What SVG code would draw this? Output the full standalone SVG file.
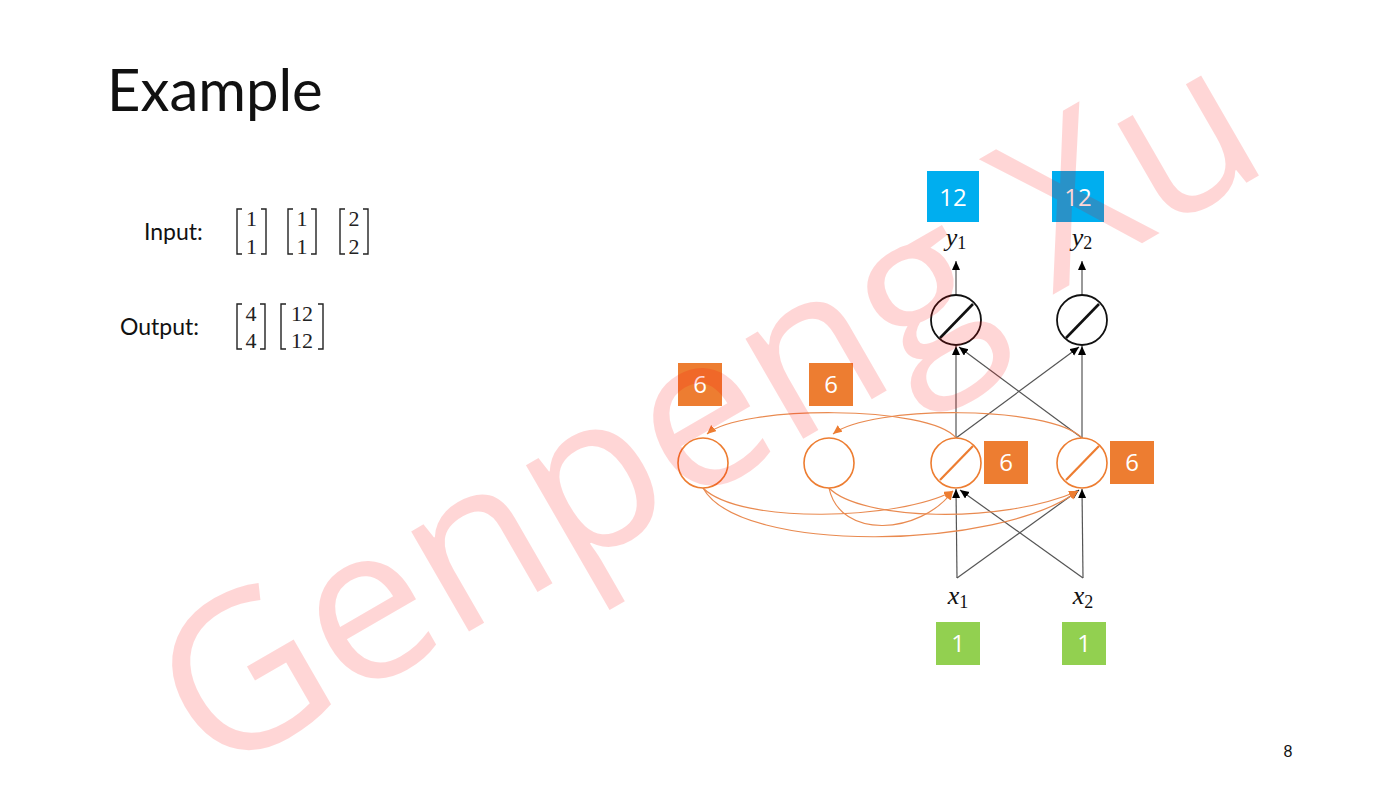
<svg xmlns="http://www.w3.org/2000/svg" width="1400" height="787" viewBox="0 0 1400 787">
<style>
.sans{font-family:Lato,"Open Sans","Liberation Sans",sans-serif;fill:#111}
.num{font-family:"Liberation Serif","DejaVu Serif",serif;font-size:22px;fill:#222;text-anchor:middle}
.brk{fill:none;stroke:#222;stroke-width:1.4}
.box{font-family:"Open Sans","Noto Sans",sans-serif;fill:#fff;text-anchor:middle;font-size:24px}
.orange{fill:#ED7D31}
.blue{fill:#00AEEF}
.green{fill:#92D050}
.ocirc{fill:#fff;stroke:#ED7D31;stroke-width:1.6}
.kcirc{fill:#fff;stroke:#111;stroke-width:1.8}
.link{fill:none;stroke:#555;stroke-width:1.2;marker-end:url(#ak)}
.rec{fill:none;stroke:#E98A50;stroke-width:1.2;marker-end:url(#ao)}
.math{font-family:"Liberation Serif","DejaVu Serif",serif;fill:#111;text-anchor:middle}
</style>
<defs>
<marker id="ak" markerUnits="userSpaceOnUse" markerWidth="10" markerHeight="9" refX="9" refY="4" orient="auto"><path d="M0,0 L9,4 L0,8 z" fill="#000"/></marker>
<marker id="ao" markerUnits="userSpaceOnUse" markerWidth="10" markerHeight="9" refX="9" refY="4" orient="auto"><path d="M0,0 L9,4 L0,8 z" fill="#ED7D31"/></marker>
</defs>
<rect width="1400" height="787" fill="#fff"/>

<text class="sans" x="107" y="111" font-size="58">Example</text>

<g id="input">
<text class="sans" x="144" y="240" font-size="23">Input:</text>
<path class="brk" d="M242,209 H237 V254 H242 M261,209 H266 V254 H261"/>
<text class="num" x="251.5" y="226">1</text><text class="num" x="251.5" y="254">1</text>
<path class="brk" d="M293,209 H288 V254 H293 M311,209 H316 V254 H311"/>
<text class="num" x="302" y="226">1</text><text class="num" x="302" y="254">1</text>
<path class="brk" d="M345,209 H340 V254 H345 M363,209 H368 V254 H363"/>
<text class="num" x="354" y="226">2</text><text class="num" x="354" y="254">2</text>
</g>
<g id="output">
<text class="sans" x="120" y="335" font-size="23">Output:</text>
<path class="brk" d="M242,304 H237 V349 H242 M260,304 H265 V349 H260"/>
<text class="num" x="251" y="321">4</text><text class="num" x="251" y="348">4</text>
<path class="brk" d="M286,304 H281 V349 H286 M318,304 H323 V349 H318"/>
<text class="num" x="302" y="321">12</text><text class="num" x="302" y="348">12</text>
</g>

<g id="connectors">
<path class="link" d="M957,578 L956,489"/>
<path class="link" d="M957,578 L1079,490"/>
<path class="link" d="M1083,578 L960,490"/>
<path class="link" d="M1083,578 L1082,489"/>
<path class="link" d="M956,438 L956,346"/>
<path class="link" d="M956,438 L1079,347"/>
<path class="link" d="M1082,438 L959,347"/>
<path class="link" d="M1082,438 L1082,346"/>
<path class="link" d="M956,295 L956,261"/>
<path class="link" d="M1082,295 L1082,261"/>
<path class="rec" d="M956,438 C930,405 740,405 707,434"/>
<path class="rec" d="M1082,438 C1050,405 870,405 833,434"/>
<path class="rec" d="M703,488 C740,525 900,520 953,491"/>
<path class="rec" d="M703,488 C740,555 1000,550 1078,491"/>
<path class="rec" d="M829,488 C840,540 920,535 953,491"/>
<path class="rec" d="M829,488 C860,520 1000,525 1078,491"/>
</g>

<g id="context1"><circle class="ocirc" cx="703" cy="463" r="25"/>
<rect class="orange" x="678" y="363" width="44" height="43"/><text class="box" x="700" y="393">6</text></g>
<g id="context2"><circle class="ocirc" cx="829" cy="463" r="25"/>
<rect class="orange" x="809" y="363" width="44" height="43"/><text class="box" x="831" y="393">6</text></g>
<g id="hidden1"><circle class="ocirc" cx="956" cy="463" r="25"/>
<line x1="940" y1="480" x2="973" y2="446" stroke="#ED7D31" stroke-width="2.2"/>
<rect class="orange" x="984" y="441" width="44" height="43"/><text class="box" x="1006" y="471">6</text></g>
<g id="hidden2"><circle class="ocirc" cx="1082" cy="463" r="25"/>
<line x1="1066" y1="480" x2="1099" y2="446" stroke="#ED7D31" stroke-width="2.2"/>
<rect class="orange" x="1110" y="441" width="44" height="43"/><text class="box" x="1132" y="471">6</text></g>
<g id="out1"><circle class="kcirc" cx="956" cy="320" r="25"/>
<line x1="940" y1="338" x2="973" y2="304" stroke="#111" stroke-width="2.6"/></g>
<g id="out2"><circle class="kcirc" cx="1082" cy="320" r="25"/>
<line x1="1066" y1="338" x2="1099" y2="304" stroke="#111" stroke-width="2.6"/></g>
<g id="y1"><text class="math" x="956" y="246" font-size="26"><tspan font-style="italic">y</tspan><tspan font-size="18" dy="3">1</tspan></text>
<rect class="blue" x="927" y="171" width="52" height="51"/><text class="box" x="953" y="206" font-size="26">12</text></g>
<g id="y2"><text class="math" x="1082" y="246" font-size="26"><tspan font-style="italic">y</tspan><tspan font-size="18" dy="3">2</tspan></text>
<rect class="blue" x="1052" y="171" width="52" height="51"/><text class="box" x="1078" y="206" font-size="26">12</text></g>
<g id="x1"><text class="math" x="958" y="604" font-size="26"><tspan font-style="italic">x</tspan><tspan font-size="18" dy="4">1</tspan></text>
<rect class="green" x="936" y="622" width="44" height="43"/><text class="box" x="958" y="652">1</text></g>
<g id="x2"><text class="math" x="1083" y="604" font-size="26"><tspan font-style="italic">x</tspan><tspan font-size="18" dy="4">2</tspan></text>
<rect class="green" x="1062" y="622" width="44" height="43"/><text class="box" x="1084" y="652">1</text></g>

<text x="1288" y="757" font-family="Liberation Sans,sans-serif" font-size="16" fill="#111" text-anchor="middle">8</text>

<text x="212" y="780" transform="rotate(-30 212 780)" font-family="Open Sans,Noto Sans,sans-serif" font-size="216" fill="#ff0000" fill-opacity="0.16" stroke="#ff0000" stroke-opacity="0" >Genpeng Xu</text>
</svg>
